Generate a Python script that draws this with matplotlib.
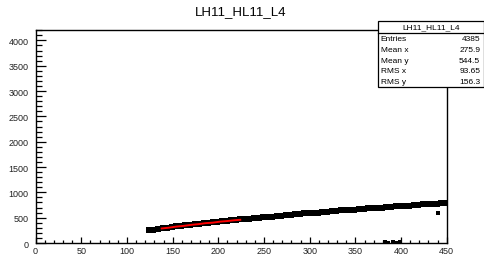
import matplotlib
matplotlib.use("Agg")
import matplotlib.pyplot as plt
from matplotlib.ticker import MultipleLocator

plt.rcParams['font.family'] = ['Liberation Sans', 'DejaVu Sans']

# band of points
x_pts = [124, 129, 134, 139, 144, 149, 154, 159, 164, 169, 174, 179, 184, 189, 194,
         199, 204, 209, 214, 219, 224, 229, 234, 239, 244, 249, 254, 259, 264, 269,
         274, 279, 284, 289, 294, 299, 304, 309, 314, 319, 324, 329, 334, 339, 344,
         349, 354, 359, 364, 369, 374, 379, 384, 389, 394, 399, 404, 409, 414, 419,
         424, 429, 434, 439, 444, 449]
y_pts = [248, 262, 279, 287, 303, 311, 326, 333, 348, 355, 370, 376, 391, 395, 409,
         414, 428, 432, 447, 451, 465, 469, 483, 487, 501, 505, 519, 522, 535, 538,
         551, 554, 567, 570, 583, 586, 599, 601, 614, 616, 629, 631, 644, 646, 659,
         661, 673, 674, 686, 688, 699, 701, 712, 714, 725, 727, 738, 739, 751, 752,
         763, 765, 776, 777, 789, 792]

# stray points
x_out = [440, 382, 386, 391, 395, 399]
y_out = [592, 12, 8, 15, 10, 12]

# red fit segment
x_red = [138, 146, 154, 162, 170, 178, 186, 194, 202, 210, 218, 224]
y_red = [287, 303, 324, 338, 358, 372, 392, 402, 422, 434, 450, 458]

stats_names = ['Entries', 'Mean x', 'Mean y', 'RMS x', 'RMS y']
stats_vals = ['4385', '275.9', '544.5', '93.65', '156.3']
title = 'LH11_HL11_L4'

fig = plt.figure(figsize=(4.85, 2.55), dpi=100)
ax = fig.add_axes([0.0734, 0.0431, 0.8477, 0.8342])

ax.plot(x_pts, y_pts, 's', color='black', ms=3.8, mew=0)
ax.plot(x_out, y_out, 's', color='black', ms=2.6, mew=0)
ax.plot(x_red, y_red, '-', color='#ff0000', lw=1.4)

ax.set_xlim(0, 450)
ax.set_ylim(0, 4200)
ax.xaxis.set_major_locator(MultipleLocator(50))
ax.xaxis.set_minor_locator(MultipleLocator(10))
ax.yaxis.set_major_locator(MultipleLocator(500))
ax.yaxis.set_minor_locator(MultipleLocator(100))
ax.tick_params(axis='both', which='both', direction='in', labelsize=6.5,
               width=0.9, color='black', labelcolor='#222222')
ax.tick_params(axis='x', which='major', length=4.3, pad=2)
ax.tick_params(axis='x', which='minor', length=2.2)
ax.tick_params(axis='y', which='major', length=7.5, pad=5)
ax.tick_params(axis='y', which='minor', length=4.0)
for s in ax.spines.values():
    s.set_linewidth(1.0)

fig.text(0.497, 0.953, title, ha='center', va='center', fontsize=9.5)

# stats box
bx0, bx1, by0, by1 = 0.779, 0.998, 0.655, 0.914
box = plt.Rectangle((bx0, by0), bx1 - bx0, by1 - by0, transform=fig.transFigure,
                    facecolor='white', edgecolor='black', lw=0.9, zorder=5)
fig.add_artist(box)
hdr_y = 0.866
fig.add_artist(plt.Line2D([bx0, bx1], [hdr_y, hdr_y], transform=fig.transFigure,
                          color='black', lw=0.9, zorder=6))
fig.text((bx0 + bx1) / 2, (by1 + hdr_y) / 2, title, ha='center', va='center',
         fontsize=6, zorder=7)
row_h = (hdr_y - by0) / len(stats_names)
for i, (n, v) in enumerate(zip(stats_names, stats_vals)):
    yy = hdr_y - row_h * (i + 0.5)
    fig.text(bx0 + 0.006, yy, n, ha='left', va='center', fontsize=6, zorder=7)
    fig.text(bx1 - 0.008, yy, v, ha='right', va='center', fontsize=6, zorder=7)

fig.savefig('out.png', dpi=100)
